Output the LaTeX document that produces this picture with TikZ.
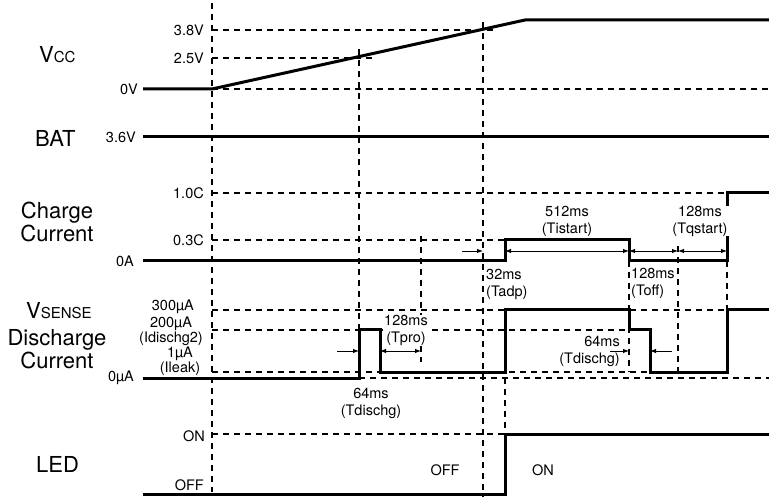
\documentclass[tikz,border=0pt]{standalone}
\usepackage{fontspec}
\setmainfont{TeX Gyre Heros}
\usetikzlibrary{arrows.meta}

\begin{document}
\begin{tikzpicture}[x=1pt,y=-1pt,>={Latex[length=6pt,width=4.5pt]},
  sig/.style={line width=3pt},
  guide/.style={line width=1.2pt,dash pattern=on 6pt off 5pt},
  dim/.style={line width=0.9pt},
  lab/.style={font=\fontsize{14.5}{17}\selectfont,inner sep=0pt},
  tight/.style={font=\fontsize{14.5}{13.5}\selectfont,inner sep=0pt,align=center},
  big/.style={font=\fontsize{22}{23}\selectfont,inner sep=0pt,align=center}]
  \useasboundingbox (0,0) rectangle (769,497);

  % guide lines
  \draw[guide] (212,3) -- (212,492);
  \draw[guide] (359,49) -- (359,330);
  \draw[guide] (483,22) -- (483,497);
  \draw[guide] (421,236) -- (421,362);
  \draw[guide] (505,378) -- (505,434);
  \draw[guide] (629,261) -- (629,372);
  \draw[guide] (678,246) -- (678,372);
  \draw[guide] (727,261) -- (727,310);
  \draw[guide] (212,30) -- (493,30);
  \draw[guide] (212,58) -- (373,58);
  \draw[guide] (212,89) -- (769,89);
  \draw[guide] (212,193) -- (727,193);
  \draw[guide] (212,240) -- (505,240);
  \draw[guide] (212,310) -- (727,310);
  \draw[guide] (212,330) -- (629,330);
  \draw[guide] (212,372) -- (650,372);
  \draw[guide] (359,378) -- (769,378);
  \draw[guide] (212,434) -- (505,434);

  % signals
  \draw[sig] (143,89) -- (212,89) -- (525,20) -- (769,20);
  \draw[sig] (143,137) -- (769,137);
  \draw[sig] (143,261) -- (505,261) -- (505,240) -- (629,240) -- (629,261)
    -- (727,261) -- (727,193) -- (769,193);
  \draw[sig] (143,378) -- (359,378) -- (359,330) -- (380,330) -- (380,372)
    -- (505,372) -- (505,310) -- (629,310) -- (629,330) -- (650,330)
    -- (650,372) -- (727,372) -- (727,310) -- (769,310);
  \draw[sig] (143,494) -- (505,494) -- (505,434) -- (769,434);

  % timing arrows
  \draw[dim,->] (462,251) -- (483,251);
  \draw[dim,<->] (505,251) -- (629,251);
  \draw[dim,<->] (629,251) -- (678,251);
  \draw[dim,<->] (678,251) -- (727,251);
  \draw[dim,->] (337,351) -- (359,351);
  \draw[dim,<->] (380,351) -- (421,351);
  \draw[dim,->] (610,351) -- (629,351);
  \draw[dim,->] (672,351) -- (650,351);

  % row names
  \node[anchor=base west,inner sep=0pt] (vcc) at (39,63)
    {\fontsize{22}{24}\selectfont V\fontsize{15}{17}\selectfont CC};
  \node[big,anchor=west] (bat) at (35,138) {BAT};
  \node[big] (chg) at (57,222) {Charge\\Current};
  \node[anchor=base west,inner sep=0pt] (vsense) at (26,319)
    {\fontsize{22}{24}\selectfont V\fontsize{15}{17}\selectfont SENSE};
  \node[big] (dis) at (57,349) {Discharge\\Current};
  \node[big,anchor=west] (led) at (36,464) {LED};

  % levels
  \node[lab,anchor=east] (v38) at (204,30) {3.8V};
  \node[lab,anchor=east] (v25) at (204,58) {2.5V};
  \node[lab,anchor=east] (v0) at (138,89) {0V};
  \node[lab,anchor=east] (v36) at (136,137) {3.6V};
  \node[lab,anchor=east] (c10) at (204,193) {1.0C};
  \node[lab,anchor=east] (c03) at (204,240) {0.3C};
  \node[lab,anchor=east] (c0) at (134,261) {0A};
  \node[lab,anchor=base east] (i300) at (194,311) {300µA};
  \node[tight,anchor=base] (i200) at (171,342) {200µA\\(Idischg2)};
  \node[tight,anchor=base] (i1) at (180,372) {1µA\\(Ileak)};
  \node[lab,anchor=east] (i0) at (134,378) {0µA};
  \node[lab,anchor=east] (lon) at (205,436) {ON};
  \node[lab,anchor=east] (loff) at (204,485) {OFF};

  % timings
  \node[lab,align=left,anchor=north west] (tadp) at (486,269) {32ms\\(Tadp)};
  \node[lab,align=center] (tist) at (567,221) {512ms\\(Tistart)};
  \node[lab,align=left,anchor=north west] (toff) at (631,268) {128ms\\(Toff)};
  \node[lab,align=center,fill=white,inner xsep=2pt] (tqs) at (700,221) {128ms\\(Tqstart)};
  \node[lab,align=center,fill=white,inner xsep=1pt] (tpro) at (406,330) {128ms\\(Tpro)};
  \node[lab,align=center] (tdis) at (371,403) {64ms\\(Tdischg)};
  \node[lab,align=right,anchor=east] (tdis2) at (620,351) {64ms\\(Tdischg)};
  \node[lab] (off) at (445,470) {OFF};
  \node[lab] (on) at (543,470) {ON};
\end{tikzpicture}
\end{document}
